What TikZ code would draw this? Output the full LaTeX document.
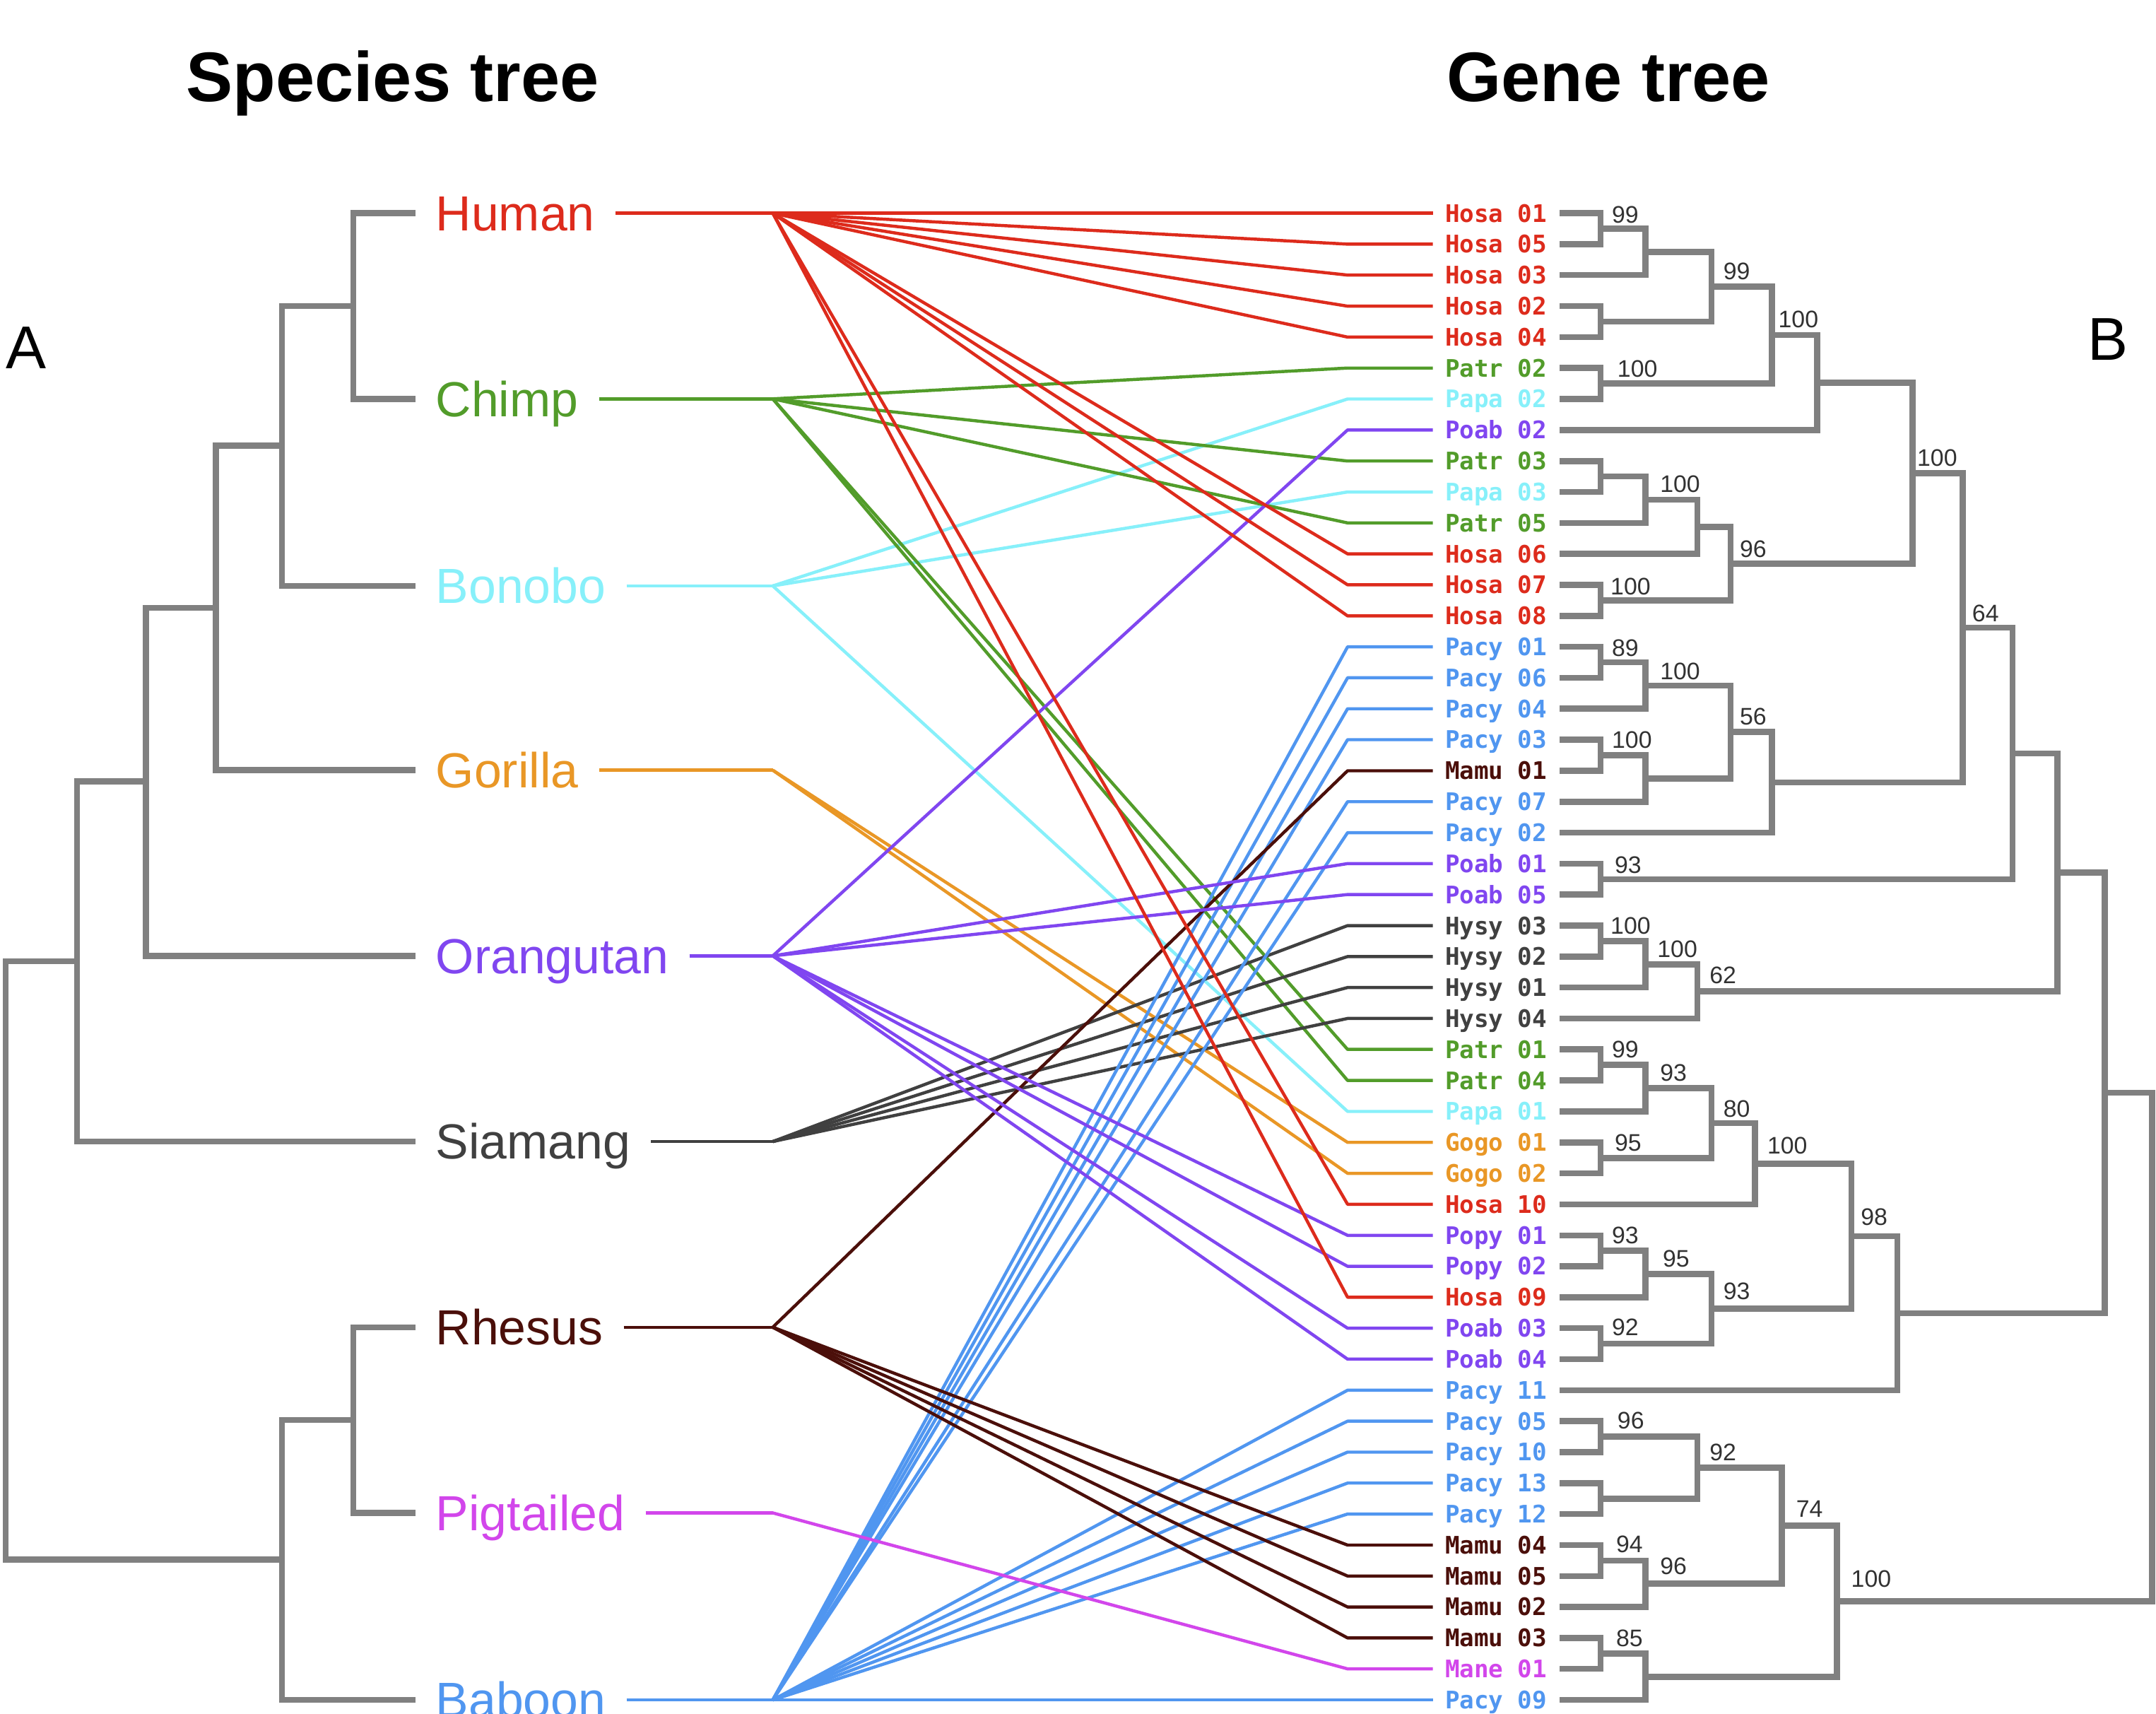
\documentclass[tikz,border=0pt]{standalone}
\usepackage{fontspec}
\setmainfont{Liberation Sans}
\newfontfamily\genefont{DejaVu Sans Mono}
\usepackage{tikz}
\definecolor{humanred}{RGB}{221,43,28}
\definecolor{chimpgreen}{RGB}{82,156,42}
\definecolor{bonobocyan}{RGB}{135,240,250}
\definecolor{gorillaorange}{RGB}{233,151,38}
\definecolor{orangpurple}{RGB}{128,70,240}
\definecolor{siamgray}{RGB}{64,64,64}
\definecolor{rhesusbrown}{RGB}{75,15,10}
\definecolor{pigmagenta}{RGB}{210,70,235}
\definecolor{baboonblue}{RGB}{80,150,240}
\definecolor{treegray}{RGB}{128,128,128}
\definecolor{bsgray}{RGB}{50,50,50}

\begin{document}
\begin{tikzpicture}[scale=0.56693,
branch/.style={draw=treegray,line width=2.5pt},
link/.style={line width=1.3pt,line join=round},
sp/.style={anchor=west,inner sep=0pt,outer xsep=0.3cm,text height=14.6pt,text depth=0pt,font=\fontsize{20.4}{24}\selectfont},
gn/.style={anchor=west,inner sep=0pt,outer xsep=0.18cm,text height=7.3pt,text depth=0pt,font=\genefont\bfseries\fontsize{10}{12}\selectfont},
bs/.style={anchor=base west,inner sep=0pt,text=bsgray,font=\fontsize{9.9}{12}\selectfont}]
\path[fill=white,use as bounding box] (0bp,0bp) rectangle (1568bp,-1246bp);

% titles
\node (title1) at (135bp,-74bp)[anchor=base west,inner sep=0pt,font=\bfseries\fontsize{29}{34}\selectfont] {Species tree};
\node (title2) at (1052bp,-74bp)[anchor=base west,inner sep=0pt,font=\bfseries\fontsize{29}{34}\selectfont] {Gene tree};
\node (panelA) at (4bp,-268bp)[anchor=base west,inner sep=0pt,font=\fontsize{25}{30}\selectfont] {A};
\node (panelB) at (1518bp,-262bp)[anchor=base west,inner sep=0pt,font=\fontsize{25}{30}\selectfont] {B};

% species
\node[sp,humanred] (Human) at (302bp,-155bp) {Human};
\node[sp,chimpgreen] (Chimp) at (302bp,-290bp) {Chimp};
\node[sp,bonobocyan] (Bonobo) at (302bp,-426bp) {Bonobo};
\node[sp,gorillaorange] (Gorilla) at (302bp,-560bp) {Gorilla};
\node[sp,orangpurple] (Orangutan) at (302bp,-695bp) {Orangutan};
\node[sp,siamgray] (Siamang) at (302bp,-830bp) {Siamang};
\node[sp,rhesusbrown] (Rhesus) at (302bp,-965bp) {Rhesus};
\node[sp,pigmagenta] (Pigtailed) at (302bp,-1100bp) {Pigtailed};
\node[sp,baboonblue] (Baboon) at (302bp,-1236bp) {Baboon};

\coordinate (HC) at (257bp,-222.5bp);
\coordinate (HCB) at (205bp,-324bp);
\coordinate (HCBG) at (157bp,-442bp);
\coordinate (HO) at (106bp,-568bp);
\coordinate (HS) at (56bp,-699bp);
\coordinate (RP) at (257bp,-1032.5bp);
\coordinate (RPB) at (205bp,-1134bp);
\coordinate (sroot) at (4bp,-916bp);

\draw[branch] (Human.west) -| (HC) |- (Chimp.west);
\draw[branch] (HC) -| (HCB) |- (Bonobo.west);
\draw[branch] (HCB) -| (HCBG) |- (Gorilla.west);
\draw[branch] (HCBG) -| (HO) |- (Orangutan.west);
\draw[branch] (HO) -| (HS) |- (Siamang.west);
\draw[branch] (Rhesus.west) -| (RP) |- (Pigtailed.west);
\draw[branch] (RP) -| (RPB) |- (Baboon.west);
\draw[branch] (HS) -| (sroot) |- (RPB);

% gene tree leaves
\node[gn,humanred] (Hosa01) at (1042bp,-155.0bp) {Hosa 01};
\node[gn,humanred] (Hosa05) at (1042bp,-177.5bp) {Hosa 05};
\node[gn,humanred] (Hosa03) at (1042bp,-200.0bp) {Hosa 03};
\node[gn,humanred] (Hosa02) at (1042bp,-222.6bp) {Hosa 02};
\node[gn,humanred] (Hosa04) at (1042bp,-245.1bp) {Hosa 04};
\node[gn,chimpgreen] (Patr02) at (1042bp,-267.6bp) {Patr 02};
\node[gn,bonobocyan] (Papa02) at (1042bp,-290.1bp) {Papa 02};
\node[gn,orangpurple] (Poab02) at (1042bp,-312.6bp) {Poab 02};
\node[gn,chimpgreen] (Patr03) at (1042bp,-335.2bp) {Patr 03};
\node[gn,bonobocyan] (Papa03) at (1042bp,-357.7bp) {Papa 03};
\node[gn,chimpgreen] (Patr05) at (1042bp,-380.2bp) {Patr 05};
\node[gn,humanred] (Hosa06) at (1042bp,-402.7bp) {Hosa 06};
\node[gn,humanred] (Hosa07) at (1042bp,-425.2bp) {Hosa 07};
\node[gn,humanred] (Hosa08) at (1042bp,-447.8bp) {Hosa 08};
\node[gn,baboonblue] (Pacy01) at (1042bp,-470.3bp) {Pacy 01};
\node[gn,baboonblue] (Pacy06) at (1042bp,-492.8bp) {Pacy 06};
\node[gn,baboonblue] (Pacy04) at (1042bp,-515.3bp) {Pacy 04};
\node[gn,baboonblue] (Pacy03) at (1042bp,-537.8bp) {Pacy 03};
\node[gn,rhesusbrown] (Mamu01) at (1042bp,-560.4bp) {Mamu 01};
\node[gn,baboonblue] (Pacy07) at (1042bp,-582.9bp) {Pacy 07};
\node[gn,baboonblue] (Pacy02) at (1042bp,-605.4bp) {Pacy 02};
\node[gn,orangpurple] (Poab01) at (1042bp,-627.9bp) {Poab 01};
\node[gn,orangpurple] (Poab05) at (1042bp,-650.4bp) {Poab 05};
\node[gn,siamgray] (Hysy03) at (1042bp,-673.0bp) {Hysy 03};
\node[gn,siamgray] (Hysy02) at (1042bp,-695.5bp) {Hysy 02};
\node[gn,siamgray] (Hysy01) at (1042bp,-718.0bp) {Hysy 01};
\node[gn,siamgray] (Hysy04) at (1042bp,-740.5bp) {Hysy 04};
\node[gn,chimpgreen] (Patr01) at (1042bp,-763.0bp) {Patr 01};
\node[gn,chimpgreen] (Patr04) at (1042bp,-785.6bp) {Patr 04};
\node[gn,bonobocyan] (Papa01) at (1042bp,-808.1bp) {Papa 01};
\node[gn,gorillaorange] (Gogo01) at (1042bp,-830.6bp) {Gogo 01};
\node[gn,gorillaorange] (Gogo02) at (1042bp,-853.1bp) {Gogo 02};
\node[gn,humanred] (Hosa10) at (1042bp,-875.6bp) {Hosa 10};
\node[gn,orangpurple] (Popy01) at (1042bp,-898.2bp) {Popy 01};
\node[gn,orangpurple] (Popy02) at (1042bp,-920.7bp) {Popy 02};
\node[gn,humanred] (Hosa09) at (1042bp,-943.2bp) {Hosa 09};
\node[gn,orangpurple] (Poab03) at (1042bp,-965.7bp) {Poab 03};
\node[gn,orangpurple] (Poab04) at (1042bp,-988.2bp) {Poab 04};
\node[gn,baboonblue] (Pacy11) at (1042bp,-1010.8bp) {Pacy 11};
\node[gn,baboonblue] (Pacy05) at (1042bp,-1033.3bp) {Pacy 05};
\node[gn,baboonblue] (Pacy10) at (1042bp,-1055.8bp) {Pacy 10};
\node[gn,baboonblue] (Pacy13) at (1042bp,-1078.3bp) {Pacy 13};
\node[gn,baboonblue] (Pacy12) at (1042bp,-1100.8bp) {Pacy 12};
\node[gn,rhesusbrown] (Mamu04) at (1042bp,-1123.4bp) {Mamu 04};
\node[gn,rhesusbrown] (Mamu05) at (1042bp,-1145.9bp) {Mamu 05};
\node[gn,rhesusbrown] (Mamu02) at (1042bp,-1168.4bp) {Mamu 02};
\node[gn,rhesusbrown] (Mamu03) at (1042bp,-1190.9bp) {Mamu 03};
\node[gn,pigmagenta] (Mane01) at (1042bp,-1213.4bp) {Mane 01};
\node[gn,baboonblue] (Pacy09) at (1042bp,-1236.0bp) {Pacy 09};

% gene tree nodes
\coordinate (a1) at (1164bp,-166.3bp);
\coordinate (a2) at (1196.5bp,-183.1bp);
\coordinate (a3) at (1164bp,-233.8bp);
\coordinate (a4) at (1244.7bp,-208.5bp);
\coordinate (a5) at (1164bp,-278.9bp);
\coordinate (a6) at (1288.5bp,-243.7bp);
\coordinate (a7) at (1321.6bp,-278.2bp);
\coordinate (b1) at (1164bp,-346.4bp);
\coordinate (b2) at (1196.5bp,-363.3bp);
\coordinate (b3) at (1234.4bp,-383.0bp);
\coordinate (b4) at (1164bp,-436.5bp);
\coordinate (b5) at (1258.5bp,-409.8bp);
\coordinate (c1) at (1391bp,-344.0bp);
\coordinate (d1) at (1164bp,-481.5bp);
\coordinate (d2) at (1196.5bp,-498.4bp);
\coordinate (d3) at (1164bp,-549.1bp);
\coordinate (d4) at (1196.5bp,-566.0bp);
\coordinate (d5) at (1258.5bp,-532.2bp);
\coordinate (d6) at (1288.5bp,-568.8bp);
\coordinate (e1) at (1427.3bp,-456.4bp);
\coordinate (e2) at (1164bp,-639.2bp);
\coordinate (e3) at (1463.5bp,-547.8bp);
\coordinate (f1) at (1164bp,-684.2bp);
\coordinate (f2) at (1196.5bp,-701.1bp);
\coordinate (f3) at (1234.4bp,-720.8bp);
\coordinate (e4) at (1496.2bp,-634.3bp);
\coordinate (g1) at (1164bp,-774.3bp);
\coordinate (g2) at (1196.5bp,-791.2bp);
\coordinate (g3) at (1164bp,-841.9bp);
\coordinate (g4) at (1244.7bp,-816.5bp);
\coordinate (g5) at (1276.4bp,-846.1bp);
\coordinate (h1) at (1164bp,-909.4bp);
\coordinate (h2) at (1196.5bp,-926.3bp);
\coordinate (h3) at (1164bp,-977.0bp);
\coordinate (h4) at (1244.7bp,-951.6bp);
\coordinate (h5) at (1346.4bp,-898.8bp);
\coordinate (h6) at (1379.8bp,-954.8bp);
\coordinate (e5) at (1530.7bp,-794.5bp);
\coordinate (i1) at (1164bp,-1044.5bp);
\coordinate (i2) at (1164bp,-1089.6bp);
\coordinate (i3) at (1234.4bp,-1067.0bp);
\coordinate (j1) at (1164bp,-1134.6bp);
\coordinate (j2) at (1196.5bp,-1151.5bp);
\coordinate (i4) at (1295.7bp,-1109.3bp);
\coordinate (k1) at (1164bp,-1202.2bp);
\coordinate (k2) at (1196.5bp,-1219.1bp);
\coordinate (i5) at (1336bp,-1164.2bp);
\coordinate (groot) at (1565bp,-979.3bp);

\draw[branch] (Hosa01.east) -| (a1) |- (Hosa05.east);
\draw[branch] (a1) -| (a2) |- (Hosa03.east);
\draw[branch] (Hosa02.east) -| (a3) |- (Hosa04.east);
\draw[branch] (a2) -| (a4) |- (a3);
\draw[branch] (Patr02.east) -| (a5) |- (Papa02.east);
\draw[branch] (a4) -| (a6) |- (a5);
\draw[branch] (a6) -| (a7) |- (Poab02.east);
\draw[branch] (Patr03.east) -| (b1) |- (Papa03.east);
\draw[branch] (b1) -| (b2) |- (Patr05.east);
\draw[branch] (b2) -| (b3) |- (Hosa06.east);
\draw[branch] (Hosa07.east) -| (b4) |- (Hosa08.east);
\draw[branch] (b3) -| (b5) |- (b4);
\draw[branch] (a7) -| (c1) |- (b5);
\draw[branch] (Pacy01.east) -| (d1) |- (Pacy06.east);
\draw[branch] (d1) -| (d2) |- (Pacy04.east);
\draw[branch] (Pacy03.east) -| (d3) |- (Mamu01.east);
\draw[branch] (d3) -| (d4) |- (Pacy07.east);
\draw[branch] (d2) -| (d5) |- (d4);
\draw[branch] (d5) -| (d6) |- (Pacy02.east);
\draw[branch] (c1) -| (e1) |- (d6);
\draw[branch] (Poab01.east) -| (e2) |- (Poab05.east);
\draw[branch] (e1) -| (e3) |- (e2);
\draw[branch] (Hysy03.east) -| (f1) |- (Hysy02.east);
\draw[branch] (f1) -| (f2) |- (Hysy01.east);
\draw[branch] (f2) -| (f3) |- (Hysy04.east);
\draw[branch] (e3) -| (e4) |- (f3);
\draw[branch] (Patr01.east) -| (g1) |- (Patr04.east);
\draw[branch] (g1) -| (g2) |- (Papa01.east);
\draw[branch] (Gogo01.east) -| (g3) |- (Gogo02.east);
\draw[branch] (g2) -| (g4) |- (g3);
\draw[branch] (g4) -| (g5) |- (Hosa10.east);
\draw[branch] (Popy01.east) -| (h1) |- (Popy02.east);
\draw[branch] (h1) -| (h2) |- (Hosa09.east);
\draw[branch] (Poab03.east) -| (h3) |- (Poab04.east);
\draw[branch] (h2) -| (h4) |- (h3);
\draw[branch] (g5) -| (h5) |- (h4);
\draw[branch] (h5) -| (h6) |- (Pacy11.east);
\draw[branch] (e4) -| (e5) |- (h6);
\draw[branch] (Pacy05.east) -| (i1) |- (Pacy10.east);
\draw[branch] (Pacy13.east) -| (i2) |- (Pacy12.east);
\draw[branch] (i1) -| (i3) |- (i2);
\draw[branch] (Mamu04.east) -| (j1) |- (Mamu05.east);
\draw[branch] (j1) -| (j2) |- (Mamu02.east);
\draw[branch] (i3) -| (i4) |- (j2);
\draw[branch] (Mamu03.east) -| (k1) |- (Mane01.east);
\draw[branch] (k1) -| (k2) |- (Pacy09.east);
\draw[branch] (i4) -| (i5) |- (k2);
\draw[branch] (e5) -| (groot) |- (i5);

% bootstrap values
\node[bs] (va1) at (1172bp,-162bp) {99};
\node[bs] (va4) at (1253bp,-203bp) {99};
\node[bs] (va5) at (1176bp,-274bp) {100};
\node[bs] (va6) at (1293bp,-238bp) {100};
\node[bs] (vb2) at (1207bp,-358bp) {100};
\node[bs] (vb4) at (1171bp,-432.6bp) {100};
\node[bs] (vb5) at (1265bp,-405bp) {96};
\node[bs] (vc1) at (1394bp,-339bp) {100};
\node[bs] (vd1) at (1172bp,-477bp) {89};
\node[bs] (vd2) at (1207bp,-494bp) {100};
\node[bs] (vd3) at (1172bp,-544bp) {100};
\node[bs] (vd5) at (1265bp,-527bp) {56};
\node[bs] (ve1) at (1434bp,-452bp) {64};
\node[bs] (ve2) at (1174bp,-634.7bp) {93};
\node[bs] (vf1) at (1171bp,-679bp) {100};
\node[bs] (vf2) at (1205bp,-696bp) {100};
\node[bs] (vf3) at (1243bp,-715bp) {62};
\node[bs] (vg1) at (1172bp,-769bp) {99};
\node[bs] (vg2) at (1207bp,-786bp) {93};
\node[bs] (vg3) at (1174bp,-837bp) {95};
\node[bs] (vg4) at (1253bp,-812bp) {80};
\node[bs] (vg5) at (1285bp,-839bp) {100};
\node[bs] (vh1) at (1172bp,-904bp) {93};
\node[bs] (vh2) at (1209bp,-921bp) {95};
\node[bs] (vh3) at (1172bp,-971bp) {92};
\node[bs] (vh4) at (1253bp,-945bp) {93};
\node[bs] (vh5) at (1353bp,-891bp) {98};
\node[bs] (vi1) at (1176bp,-1039bp) {96};
\node[bs] (vi3) at (1243bp,-1062bp) {92};
\node[bs] (vj1) at (1175bp,-1128.7bp) {94};
\node[bs] (vj2) at (1207bp,-1145bp) {96};
\node[bs] (vi4) at (1306bp,-1103bp) {74};
\node[bs] (vk1) at (1175bp,-1197bp) {85};
\node[bs] (vi5) at (1346bp,-1154bp) {100};

% species to gene links
\coordinate (kx) at (980bp,0bp);
\coordinate (fHu) at (562bp,-155bp);
\coordinate (fCh) at (562bp,-290bp);
\coordinate (fBo) at (562bp,-426bp);
\coordinate (fGo) at (562bp,-560bp);
\coordinate (fOr) at (562bp,-695bp);
\coordinate (fSi) at (562bp,-830bp);
\coordinate (fRh) at (562bp,-965bp);
\coordinate (fPi) at (562bp,-1100bp);
\coordinate (fBa) at (562bp,-1236bp);

\draw[link,humanred] (Human.east) -- (fHu);
\draw[link,chimpgreen] (Chimp.east) -- (fCh);
\draw[link,bonobocyan] (Bonobo.east) -- (fBo);
\draw[link,gorillaorange] (Gorilla.east) -- (fGo);
\draw[link,orangpurple] (Orangutan.east) -- (fOr);
\draw[link,siamgray] (Siamang.east) -- (fSi);
\draw[link,rhesusbrown] (Rhesus.east) -- (fRh);
\draw[link,pigmagenta] (Pigtailed.east) -- (fPi);
\draw[link,baboonblue] (Baboon.east) -- (fBa);

\draw[link,bonobocyan] (fBo) -- (kx |- Papa02.west) -- (Papa02.west);
\draw[link,bonobocyan] (fBo) -- (kx |- Papa03.west) -- (Papa03.west);
\draw[link,bonobocyan] (fBo) -- (kx |- Papa01.west) -- (Papa01.west);
\draw[link,chimpgreen] (fCh) -- (kx |- Patr02.west) -- (Patr02.west);
\draw[link,chimpgreen] (fCh) -- (kx |- Patr03.west) -- (Patr03.west);
\draw[link,chimpgreen] (fCh) -- (kx |- Patr05.west) -- (Patr05.west);
\draw[link,chimpgreen] (fCh) -- (kx |- Patr01.west) -- (Patr01.west);
\draw[link,chimpgreen] (fCh) -- (kx |- Patr04.west) -- (Patr04.west);
\draw[link,gorillaorange] (fGo) -- (kx |- Gogo01.west) -- (Gogo01.west);
\draw[link,gorillaorange] (fGo) -- (kx |- Gogo02.west) -- (Gogo02.west);
\draw[link,siamgray] (fSi) -- (kx |- Hysy03.west) -- (Hysy03.west);
\draw[link,siamgray] (fSi) -- (kx |- Hysy02.west) -- (Hysy02.west);
\draw[link,siamgray] (fSi) -- (kx |- Hysy01.west) -- (Hysy01.west);
\draw[link,siamgray] (fSi) -- (kx |- Hysy04.west) -- (Hysy04.west);
\draw[link,baboonblue] (fBa) -- (kx |- Pacy01.west) -- (Pacy01.west);
\draw[link,baboonblue] (fBa) -- (kx |- Pacy06.west) -- (Pacy06.west);
\draw[link,baboonblue] (fBa) -- (kx |- Pacy04.west) -- (Pacy04.west);
\draw[link,baboonblue] (fBa) -- (kx |- Pacy03.west) -- (Pacy03.west);
\draw[link,baboonblue] (fBa) -- (kx |- Pacy07.west) -- (Pacy07.west);
\draw[link,baboonblue] (fBa) -- (kx |- Pacy02.west) -- (Pacy02.west);
\draw[link,baboonblue] (fBa) -- (kx |- Pacy11.west) -- (Pacy11.west);
\draw[link,baboonblue] (fBa) -- (kx |- Pacy05.west) -- (Pacy05.west);
\draw[link,baboonblue] (fBa) -- (kx |- Pacy10.west) -- (Pacy10.west);
\draw[link,baboonblue] (fBa) -- (kx |- Pacy13.west) -- (Pacy13.west);
\draw[link,baboonblue] (fBa) -- (kx |- Pacy12.west) -- (Pacy12.west);
\draw[link,baboonblue] (fBa) -- (kx |- Pacy09.west) -- (Pacy09.west);
\draw[link,pigmagenta] (fPi) -- (kx |- Mane01.west) -- (Mane01.west);
\draw[link,rhesusbrown] (fRh) -- (kx |- Mamu01.west) -- (Mamu01.west);
\draw[link,rhesusbrown] (fRh) -- (kx |- Mamu04.west) -- (Mamu04.west);
\draw[link,rhesusbrown] (fRh) -- (kx |- Mamu05.west) -- (Mamu05.west);
\draw[link,rhesusbrown] (fRh) -- (kx |- Mamu02.west) -- (Mamu02.west);
\draw[link,rhesusbrown] (fRh) -- (kx |- Mamu03.west) -- (Mamu03.west);
\draw[link,orangpurple] (fOr) -- (kx |- Poab02.west) -- (Poab02.west);
\draw[link,orangpurple] (fOr) -- (kx |- Poab01.west) -- (Poab01.west);
\draw[link,orangpurple] (fOr) -- (kx |- Poab05.west) -- (Poab05.west);
\draw[link,orangpurple] (fOr) -- (kx |- Popy01.west) -- (Popy01.west);
\draw[link,orangpurple] (fOr) -- (kx |- Popy02.west) -- (Popy02.west);
\draw[link,orangpurple] (fOr) -- (kx |- Poab03.west) -- (Poab03.west);
\draw[link,orangpurple] (fOr) -- (kx |- Poab04.west) -- (Poab04.west);
\draw[link,humanred] (fHu) -- (kx |- Hosa01.west) -- (Hosa01.west);
\draw[link,humanred] (fHu) -- (kx |- Hosa05.west) -- (Hosa05.west);
\draw[link,humanred] (fHu) -- (kx |- Hosa03.west) -- (Hosa03.west);
\draw[link,humanred] (fHu) -- (kx |- Hosa02.west) -- (Hosa02.west);
\draw[link,humanred] (fHu) -- (kx |- Hosa04.west) -- (Hosa04.west);
\draw[link,humanred] (fHu) -- (kx |- Hosa06.west) -- (Hosa06.west);
\draw[link,humanred] (fHu) -- (kx |- Hosa07.west) -- (Hosa07.west);
\draw[link,humanred] (fHu) -- (kx |- Hosa08.west) -- (Hosa08.west);
\draw[link,humanred] (fHu) -- (kx |- Hosa10.west) -- (Hosa10.west);
\draw[link,humanred] (fHu) -- (kx |- Hosa09.west) -- (Hosa09.west);
\end{tikzpicture}
\end{document}
